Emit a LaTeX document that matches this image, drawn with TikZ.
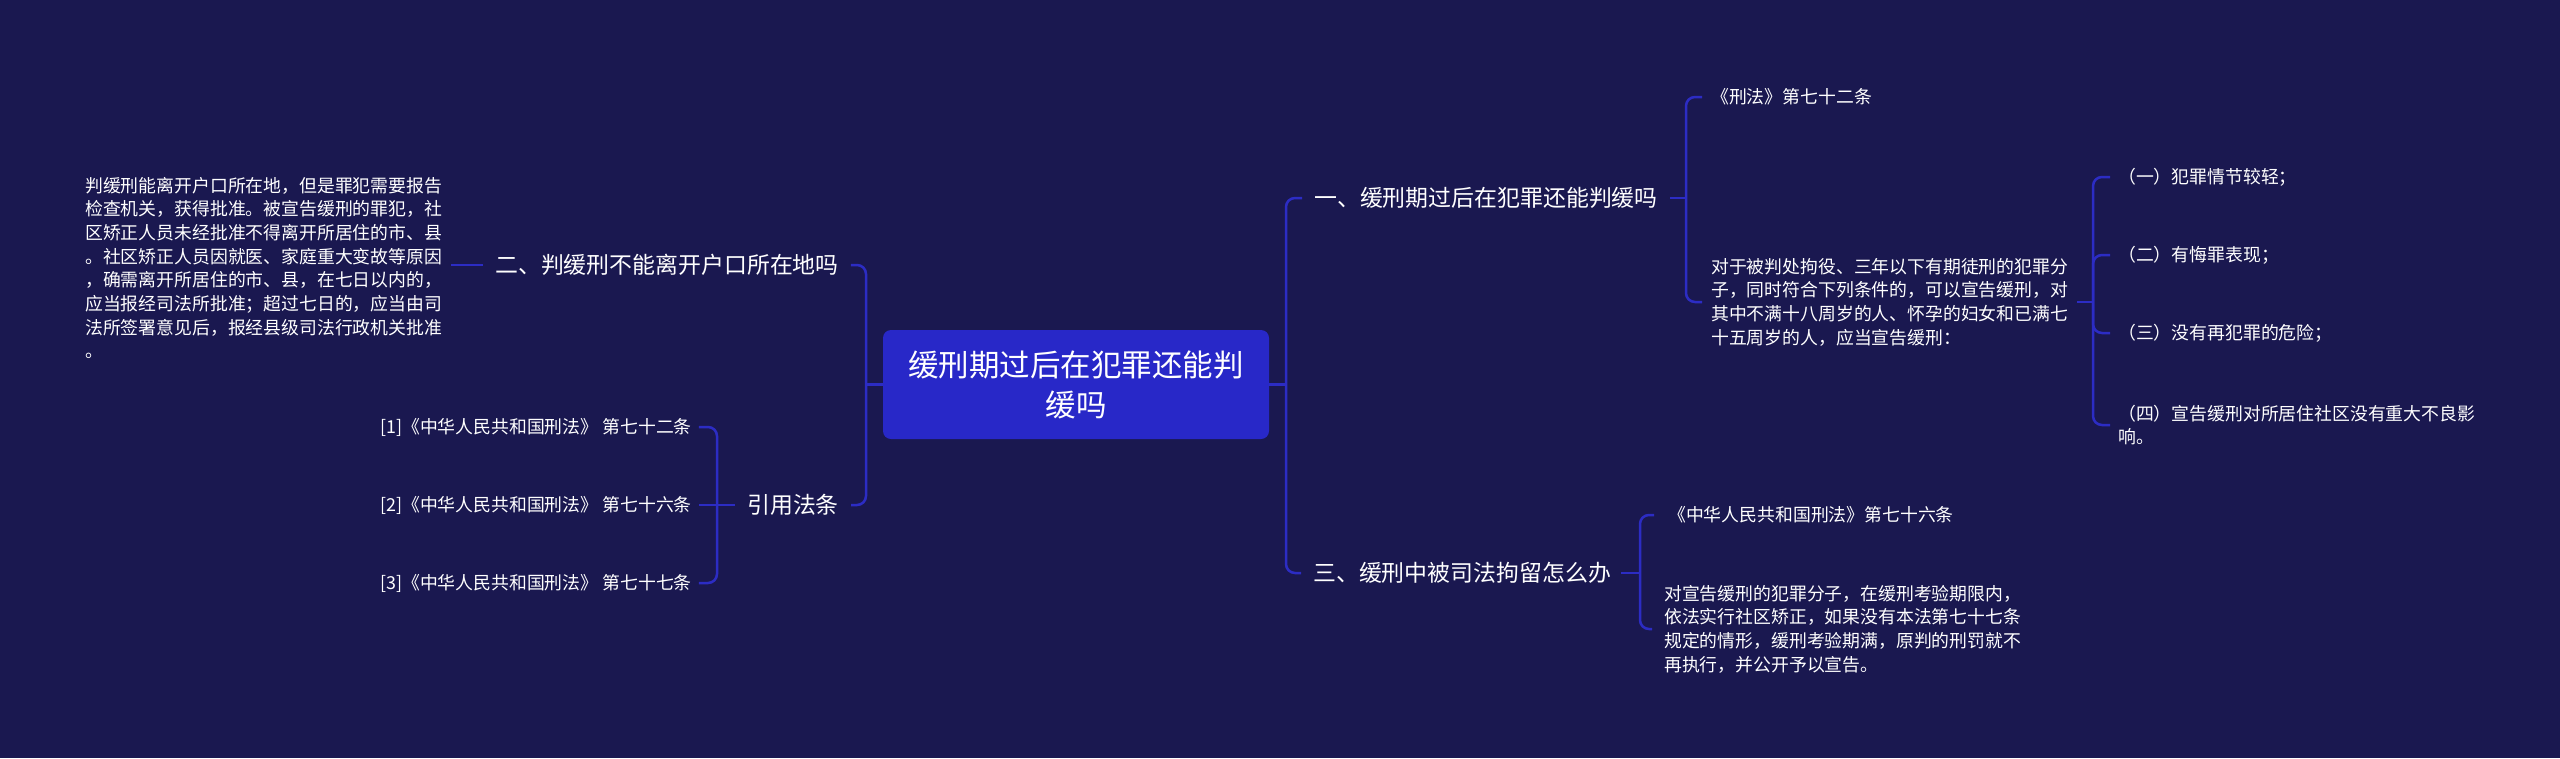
\documentclass[tikz,border=0pt]{standalone}
\usepackage{fontspec}
\setmainfont{Noto Sans CJK SC}
\definecolor{bg}{RGB}{26,24,80}
\definecolor{boxc}{RGB}{40,40,200}
\definecolor{linec}{RGB}{44,44,196}
\begin{document}
\begin{tikzpicture}[x=1pt,y=-1pt,
  conn/.style={draw=linec,line width=2.5pt,rounded corners=9pt},
  txt/.style={text=white,inner sep=0pt,anchor=west,align=left},
  small/.style={txt,font=\fontsize{17.85}{23.7}\selectfont},
  mid/.style={txt,font=\fontsize{22.9}{28}\selectfont},
  root/.style={fill=boxc,rounded corners=8pt,minimum width=386pt,minimum height=109pt,text=white,align=center,font=\fontsize{30.5}{40}\selectfont,inner sep=0pt}]
\useasboundingbox (0,0) rectangle (2560,758);
\fill[bg] (0,0) rectangle (2560,758);
% root
\node[root] (c) at (1076,384.5) {缓刑期过后在犯罪还能判\\缓吗};
% left side
\node[mid] (n2) at (495,265) {二、判缓刑不能离开户口所在地吗};
\node[small] (p2) at (85,268) {判缓刑能离开户口所在地，但是罪犯需要报告\\检查机关，获得批准。被宣告缓刑的罪犯，社\\区矫正人员未经批准不得离开所居住的市、县\\。社区矫正人员因就医、家庭重大变故等原因\\，确需离开所居住的市、县，在七日以内的，\\应当报经司法所批准；超过七日的，应当由司\\法所签署意见后，报经县级司法行政机关批准\\。};
\node[mid] (q) at (747,505) {引用法条};
\node[small] (f1) at (380,427) {[1]《中华人民共和国刑法》 第七十二条};
\node[small] (f2) at (380,505) {[2]《中华人民共和国刑法》 第七十六条};
\node[small] (f3) at (380,583) {[3]《中华人民共和国刑法》 第七十七条};
% right side
\node[mid] (n1) at (1314,198) {一、缓刑期过后在犯罪还能判缓吗};
\node[small] (a1) at (1711,97) {《刑法》第七十二条};
\node[small] (a2) at (1711,302) {对于被判处拘役、三年以下有期徒刑的犯罪分\\子，同时符合下列条件的，可以宣告缓刑，对\\其中不满十八周岁的人、怀孕的妇女和已满七\\十五周岁的人，应当宣告缓刑：};
\node[small] (i1) at (2118,177) {（一）犯罪情节较轻；};
\node[small] (i2) at (2118,255) {（二）有悔罪表现；};
\node[small] (i3) at (2118,333) {（三）没有再犯罪的危险；};
\node[small] (i4) at (2118,425) {（四）宣告缓刑对所居住社区没有重大不良影\\响。};
\node[mid] (n3) at (1313,573) {三、缓刑中被司法拘留怎么办};
\node[small] (b1) at (1668,515) {《中华人民共和国刑法》第七十六条};
\node[small] (b2) at (1664,629) {对宣告缓刑的犯罪分子，在缓刑考验期限内，\\依法实行社区矫正，如果没有本法第七十七条\\规定的情形，缓刑考验期满，原判的刑罚就不\\再执行，并公开予以宣告。};
% junctions
\coordinate (jl) at (866,384.5);
\coordinate (jq) at (717,505);
\coordinate (jr) at (1286,384.5);
\coordinate (j1) at (1686,198);
\coordinate (ji) at (2093,302);
\coordinate (j3) at (1640,573);
% connectors left
\draw[conn] (c.west) -- (jl);
\draw[conn] ([xshift=12pt]n2.east) -| (jl) |- ([xshift=12pt]q.east);
\draw[conn] ([xshift=-12pt]n2.west) -- ([xshift=9pt]p2.east |- n2.west);
\draw[conn] ([xshift=-12pt]q.west) -- ([xshift=7pt]f2.east);
\draw[conn] ([xshift=7pt]f1.east) -| (jq) |- ([xshift=7pt]f3.east);
% connectors right
\draw[conn] (c.east) -- (jr);
\draw[conn] ([xshift=-12pt]n1.west) -| (jr) |- ([xshift=-12pt]n3.west);
\draw[conn] ([xshift=12pt]n1.east) -- (j1);
\draw[conn] ([xshift=-9pt]a1.west) -| (j1) |- ([xshift=-9pt]a2.west);
\draw[conn] ([xshift=9pt]a2.east) -- (ji);
\draw[conn] ([xshift=-8pt]i1.west) -| (ji) |- ([xshift=-8pt]i4.west);
\draw[conn] (ji) |- ([xshift=-8pt]i2.west);
\draw[conn] (ji) |- ([xshift=-8pt]i3.west);
\draw[conn] ([xshift=10pt]n3.east) -- (j3);
\draw[conn] ([xshift=-14pt]b1.west) -| (j3) |- ([xshift=-12pt]b2.west);
\end{tikzpicture}
\end{document}
